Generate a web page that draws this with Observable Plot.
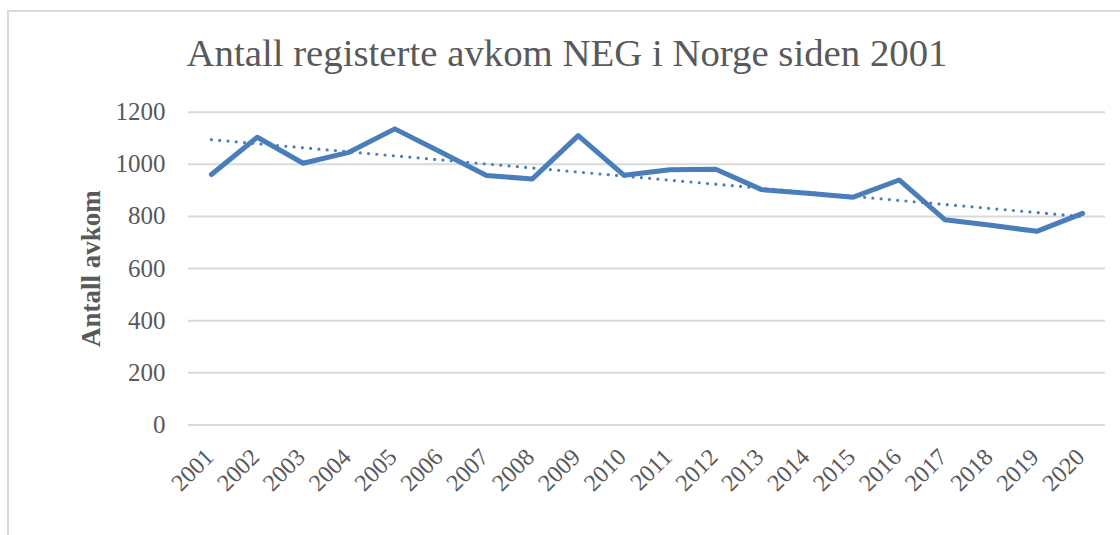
<!DOCTYPE html>
<html>
<head>
<meta charset="utf-8">
<script src="https://cdn.jsdelivr.net/npm/d3@7"></script>
<script src="https://cdn.jsdelivr.net/npm/@observablehq/plot@0.6"></script>
<style>
  html, body { margin: 0; padding: 0; background: #fff; }
  #wrap { position: relative; width: 1120px; height: 535px; overflow: hidden; font-family: "Liberation Serif", "DejaVu Serif", serif; }
  #frame { position: absolute; left: 7px; top: 10px; width: 1200px; height: 600px; border-top: 2px solid #d9d9d9; border-left: 2px solid #d9d9d9; box-sizing: border-box; }
  #title { position: absolute; left: 0; width: 1134px; top: 31px; text-align: center; font-size: 38.8px; line-height: 44px; color: #595959; white-space: nowrap; }
  #chart { position: absolute; left: 0; top: 85px; }
</style>
</head>
<body>
<div id="wrap">
  <div id="frame"></div>
  <div id="title">Antall registerte avkom NEG i Norge siden 2001</div>
  <div id="chart"></div>
</div>
<script>
const years = [2001, 2002, 2003, 2004, 2005, 2006, 2007, 2008, 2009, 2010,
               2011, 2012, 2013, 2014, 2015, 2016, 2017, 2018, 2019, 2020];
const avkom = [961, 1104, 1004, 1046, 1136, 1047, 957, 944, 1110, 958,
               979, 981, 903, 889, 874, 940, 787, 766, 743, 812];
const yTicks = [0, 200, 400, 600, 800, 1000, 1200];
const yLabel = "Antall avkom";

const data = years.map((y, i) => ({year: y, value: avkom[i]}));
const blue = "#4A7EBB";

const plot = Plot.plot({
  width: 1120,
  height: 450,
  marginLeft: 188,
  marginRight: 15,
  marginTop: 26.7,
  marginBottom: 110.5,
  style: {fontFamily: "'Liberation Serif', 'DejaVu Serif', serif", background: "transparent", overflow: "visible"},
  x: {domain: [years[0] - 0.5, years[years.length - 1] + 0.5]},
  y: {domain: [0, 1200]},
  marks: [
    Plot.gridY(yTicks, {stroke: "#d9d9d9", strokeOpacity: 1, strokeWidth: 2}),
    Plot.axisY(yTicks, {tickSize: 0, tickPadding: 23, fontSize: 25, fill: "#595959", label: null, tickFormat: d => String(d)}),
    Plot.axisX(years, {tickSize: 0, tickPadding: 22, dy: 6, dx: -2, tickRotate: -45, fontSize: 24, fill: "#595959", label: null, tickFormat: d => String(d)}),
    Plot.text([yLabel], {text: d => d, frameAnchor: "left", textAnchor: "middle", dx: -97, rotate: -90, fontSize: 27, fontWeight: "bold", fill: "#595959"}),
    Plot.line(data, {x: "year", y: "value", stroke: blue, strokeWidth: 5, strokeLinejoin: "round", strokeLinecap: "round"}),
    Plot.linearRegressionY(data, {x: "year", y: "value", stroke: blue, strokeWidth: 3.2, strokeDasharray: "0,8.3", strokeLinecap: "round", ci: 0})
  ]
});
document.getElementById("chart").appendChild(plot);
</script>
</body>
</html>
